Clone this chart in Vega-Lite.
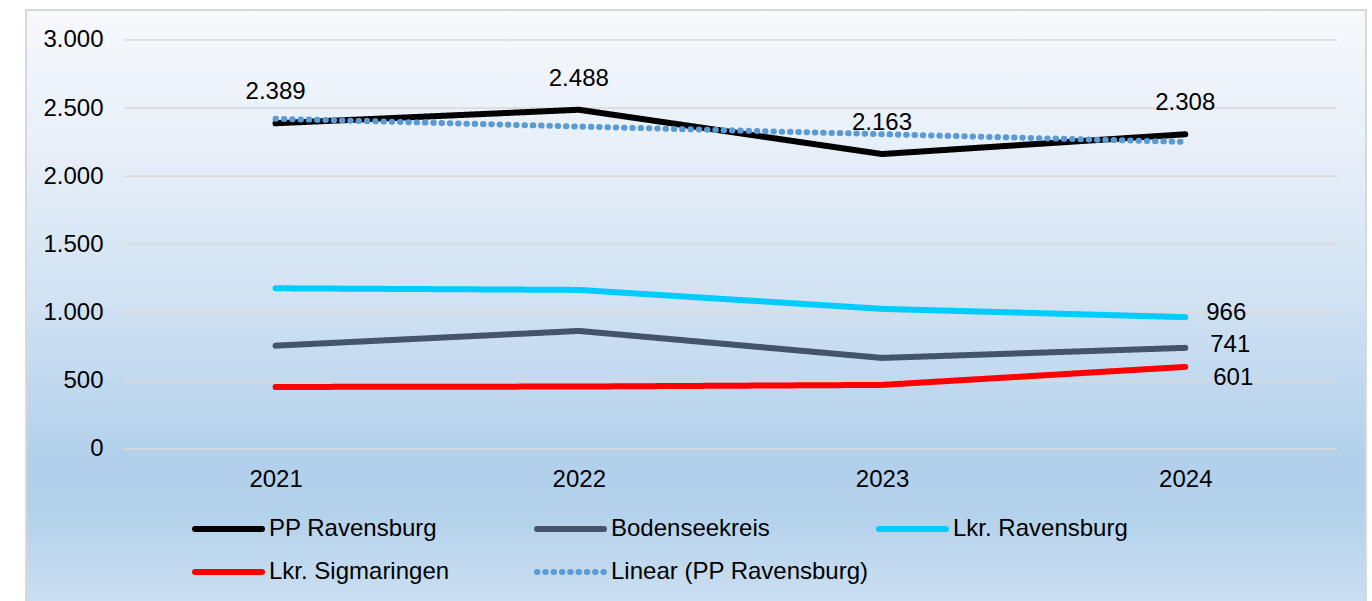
{
  "$schema": "https://vega.github.io/schema/vega-lite/v6.json",
  "width": 1340,
  "height": 595,
  "autosize": {"type": "none"},
  "padding": {"left": 26, "top": 10, "right": 6, "bottom": 0},
  "background": "#ffffff",
  "config": {
    "locale": {"number": {"decimal": ",", "thousands": ".", "grouping": [3], "currency": ["", " €"]}},
    "font": "Liberation Sans",
    "view": {
      "stroke": "#D9D9D9",
      "strokeWidth": 2,
      "fill": {
        "gradient": "linear", "x1": 0, "y1": 0, "x2": 0, "y2": 1,
        "stops": [
          {"offset": 0, "color": "#F7F9FC"},
          {"offset": 0.3, "color": "#E2ECF7"},
          {"offset": 0.5, "color": "#CFE1F3"},
          {"offset": 0.76, "color": "#B2D0EB"},
          {"offset": 0.84, "color": "#B3D1EB"},
          {"offset": 1, "color": "#CBDFF1"}
        ]
      }
    },
    "text": {"font": "Liberation Sans"}
  },
  "datasets": {
    "grid": [{"tick": 0}, {"tick": 500}, {"tick": 1000}, {"tick": 1500}, {"tick": 2000}, {"tick": 2500}, {"tick": 3000}],
    "series": [
      {"year": 2021, "series": "PP Ravensburg", "value": 2389},
      {"year": 2022, "series": "PP Ravensburg", "value": 2488},
      {"year": 2023, "series": "PP Ravensburg", "value": 2163},
      {"year": 2024, "series": "PP Ravensburg", "value": 2308},
      {"year": 2021, "series": "Bodenseekreis", "value": 757},
      {"year": 2022, "series": "Bodenseekreis", "value": 865},
      {"year": 2023, "series": "Bodenseekreis", "value": 667},
      {"year": 2024, "series": "Bodenseekreis", "value": 741},
      {"year": 2021, "series": "Lkr. Ravensburg", "value": 1178},
      {"year": 2022, "series": "Lkr. Ravensburg", "value": 1166},
      {"year": 2023, "series": "Lkr. Ravensburg", "value": 1027},
      {"year": 2024, "series": "Lkr. Ravensburg", "value": 966},
      {"year": 2021, "series": "Lkr. Sigmaringen", "value": 454},
      {"year": 2022, "series": "Lkr. Sigmaringen", "value": 457},
      {"year": 2023, "series": "Lkr. Sigmaringen", "value": 469},
      {"year": 2024, "series": "Lkr. Sigmaringen", "value": 601},
      {"year": 2021, "series": "Linear (PP Ravensburg)", "value": 2422},
      {"year": 2022, "series": "Linear (PP Ravensburg)", "value": 2365},
      {"year": 2023, "series": "Linear (PP Ravensburg)", "value": 2309},
      {"year": 2024, "series": "Linear (PP Ravensburg)", "value": 2252}
    ]
  },
  "layer": [
    {
      "data": {"name": "grid"},
      "mark": {"type": "rule", "stroke": "#D9D9D9", "strokeWidth": 1.5},
      "encoding": {
        "y": {"field": "tick", "type": "quantitative",
          "scale": {"domain": [-1146, 3220], "nice": false, "zero": false},
          "axis": {"values": [0, 500, 1000, 1500, 2000, 2500, 3000], "format": ",d", "title": null, "grid": false, "domain": false, "ticks": false, "tickSize": 0, "labelPadding": 0, "offset": -77, "labelFontSize": 24, "labelColor": "#000000", "labelFont": "Liberation Sans"}},
        "x": {"datum": 2020.5, "type": "quantitative",
          "scale": {"domain": [2020.177, 2024.596], "nice": false, "zero": false},
          "axis": {"values": [2021, 2022, 2023, 2024], "format": "d", "title": null, "grid": false, "domain": false, "ticks": false, "tickSize": 0, "labelPadding": 0, "offset": -125.5, "labelBaseline": "middle", "labelFlush": false, "labelOverlap": false, "labelFontSize": 24, "labelColor": "#000000", "labelFont": "Liberation Sans"}},
        "x2": {"datum": 2024.5}
      }
    },
    {
      "data": {"name": "series"},
      "mark": {"type": "line", "strokeCap": "round", "strokeJoin": "round"},
      "encoding": {
        "x": {"field": "year", "type": "quantitative"},
        "y": {"field": "value", "type": "quantitative"},
        "color": {"field": "series", "type": "nominal",
          "scale": {"domain": ["PP Ravensburg", "Bodenseekreis", "Lkr. Ravensburg", "Lkr. Sigmaringen", "Linear (PP Ravensburg)"],
                    "range": ["#000000", "#44546A", "#00CCFF", "#FF0000", "#5B9BD5"]},
          "legend": {"orient": "none", "legendX": 166, "legendY": 507, "direction": "horizontal", "columns": 3, "gridAlign": "all", "columnPadding": 7, "rowPadding": 19, "clipHeight": 24, "symbolType": "stroke", "symbolSize": 4489, "labelFontSize": 24, "labelOffset": 4, "labelLimit": 400, "labelColor": "#000000", "labelFont": "Liberation Sans", "title": null, "padding": 0,
            "encode": {"symbols": {
              "update": {"strokeCap": {"value": "round"}, "strokeWidth": {"signal": "datum.value === 'Linear (PP Ravensburg)' ? 2.5 : 6"}}}}}},
        "strokeDash": {"field": "series", "type": "nominal",
          "scale": {"domain": ["PP Ravensburg", "Bodenseekreis", "Lkr. Ravensburg", "Lkr. Sigmaringen", "Linear (PP Ravensburg)"],
                    "range": [[1, 0], [1, 0], [1, 0], [1, 0], [0.5, 7.8]]}},
        "strokeWidth": {"field": "series", "type": "nominal",
          "scale": {"domain": ["PP Ravensburg", "Bodenseekreis", "Lkr. Ravensburg", "Lkr. Sigmaringen", "Linear (PP Ravensburg)"],
                    "range": [6, 6, 6, 6, 3]}}
      }
    },
    {
      "data": {"name": "series"},
      "transform": [{"filter": "datum.series === 'PP Ravensburg'"}],
      "mark": {"type": "text", "fontSize": 24, "align": "center", "baseline": "middle", "dy": -31, "color": "#000000"},
      "encoding": {
        "x": {"field": "year", "type": "quantitative"},
        "y": {"field": "value", "type": "quantitative"},
        "text": {"field": "value", "type": "quantitative", "format": ",d"}
      }
    },
    {
      "data": {"name": "series"},
      "transform": [{"filter": "datum.series === 'Lkr. Ravensburg' && datum.year === 2024"}],
      "mark": {"type": "text", "fontSize": 24, "align": "left", "baseline": "middle", "dx": 21, "dy": -4, "color": "#000000"},
      "encoding": {
        "x": {"field": "year", "type": "quantitative"},
        "y": {"field": "value", "type": "quantitative"},
        "text": {"field": "value", "type": "quantitative", "format": ",d"}
      }
    },
    {
      "data": {"name": "series"},
      "transform": [{"filter": "datum.series === 'Bodenseekreis' && datum.year === 2024"}],
      "mark": {"type": "text", "fontSize": 24, "align": "left", "baseline": "middle", "dx": 25, "dy": -3, "color": "#000000"},
      "encoding": {
        "x": {"field": "year", "type": "quantitative"},
        "y": {"field": "value", "type": "quantitative"},
        "text": {"field": "value", "type": "quantitative", "format": ",d"}
      }
    },
    {
      "data": {"name": "series"},
      "transform": [{"filter": "datum.series === 'Lkr. Sigmaringen' && datum.year === 2024"}],
      "mark": {"type": "text", "fontSize": 24, "align": "left", "baseline": "middle", "dx": 28, "dy": 11, "color": "#000000"},
      "encoding": {
        "x": {"field": "year", "type": "quantitative"},
        "y": {"field": "value", "type": "quantitative"},
        "text": {"field": "value", "type": "quantitative", "format": ",d"}
      }
    }
  ]
}
